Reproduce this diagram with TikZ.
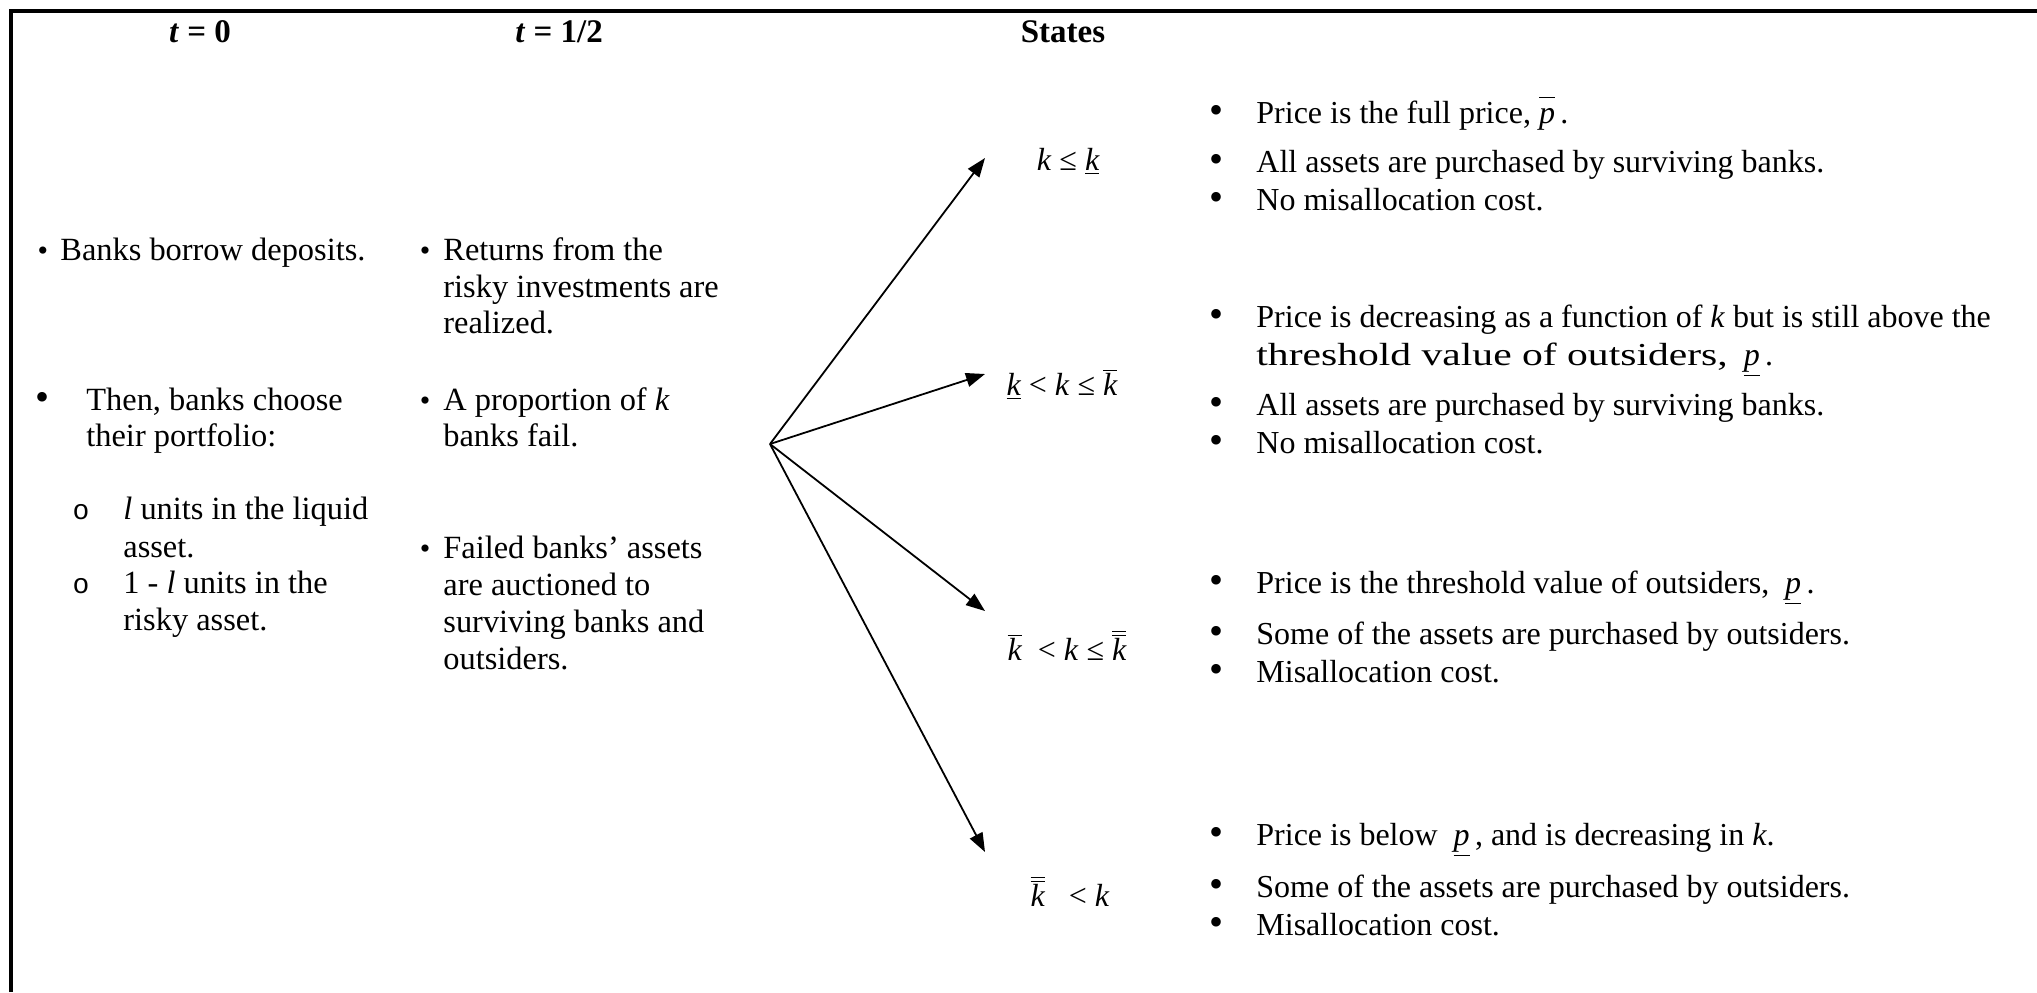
\documentclass[tikz,border=0pt]{standalone}
\usepackage{fontspec}
\setmainfont{Liberation Serif}
\newfontfamily\bulletmono{Liberation Mono}
\newfontfamily\wideserif[FakeStretch=1.3]{Liberation Serif}
\usetikzlibrary{arrows.meta}
\newcommand{\ovk}{\ensuremath{\overline{\hbox{\itshape k}}}}
\newcommand{\oovk}{\ensuremath{\overline{\overline{\hbox{\itshape k}}}}}
\newcommand{\unk}{\underline{\itshape k}}
\newcommand{\unp}{\underline{\itshape p}}
\begin{document}
\begin{tikzpicture}[x=0.5pt,y=-0.5pt,
  lt/.style={anchor=mid west, inner sep=0pt, font=\fontsize{16.2}{18}\selectfont},
  rt/.style={anchor=mid west, inner sep=0pt, font=\fontsize{16}{18}\selectfont},
  bl/.style={anchor=mid, inner sep=0pt, font=\fontsize{16}{18}\selectfont},
  bigbl/.style={anchor=mid, inner sep=0pt, font=\fontsize{20}{18}\selectfont},
  hd/.style={anchor=mid, inner sep=0pt, font=\fontsize{16.5}{18}\selectfont\bfseries},
  st/.style={anchor=mid, inner sep=0pt, font=\fontsize{16}{18}\selectfont},
  arr/.style={-{Triangle[length=9.5pt,width=7pt]}, line width=0.9pt},
  frame/.style={line width=1.6pt}]
\useasboundingbox (0,0) rectangle (2037,992);
\draw[frame] (11,992) -- (11,11) -- (2037,11);

% headers
\node[hd] (h0) at (200,38) {\textit{t} = 0};
\node[hd] (h1) at (559,38) {\textit{t} = 1/2};
\node[hd] (h2) at (1063,38) {States};

% column t = 0
\node[bl,font=\fontsize{15}{18}\selectfont] (b01) at (43,256) {•};
\node[lt] (c01) at (60,256) {Banks borrow deposits.};
\node[bigbl] (b02) at (43,406) {•};
\node[lt] (c02a) at (86,406) {Then, banks choose};
\node[lt] (c02b) at (86,442) {their portfolio:};
\node[bl,font=\fontsize{14}{18}\bulletmono] (b03) at (81,515) {o};
\node[lt] (c03a) at (123,515) {\textit{l} units in the liquid};
\node[lt] (c03b) at (123,553) {asset.};
\node[bl,font=\fontsize{14}{18}\bulletmono] (b04) at (81,589) {o};
\node[lt] (c04a) at (123,589) {1 - \textit{l} units in the};
\node[lt] (c04b) at (123,626) {risky asset.};

% column t = 1/2
\node[bl,font=\fontsize{15}{18}\selectfont] (b11) at (425,256) {•};
\node[lt] (c11a) at (443,256) {Returns from the};
\node[lt] (c11b) at (443,293) {risky investments are};
\node[lt] (c11c) at (443,329) {realized.};
\node[bl,font=\fontsize{15}{18}\selectfont] (b12) at (425,406) {•};
\node[lt] (c12a) at (443,406) {A proportion of \textit{k}};
\node[lt] (c12b) at (443,442) {banks fail.};
\node[bl,font=\fontsize{15}{18}\selectfont] (b13) at (425,554) {•};
\node[lt] (c13a) at (443,554) {Failed banks’ assets};
\node[lt] (c13b) at (443,591) {are auctioned to};
\node[lt] (c13c) at (443,628) {surviving banks and};
\node[lt] (c13d) at (443,665) {outsiders.};

% states
\node[st] (s1) at (1068,166) {\textit{k} ≤ \unk};
\node[st] (s2) at (1062,391) {\unk{} < \textit{k} ≤ \ovk};
\node[st] (s3) at (1067,656) {\ovk\ \ < \textit{k} ≤ \oovk};
\node[st] (s4) at (1070,902) {\oovk\ \ \ < \textit{k}};

\coordinate (o) at (770,444);
\coordinate (t1) at (985,158);
\coordinate (t2) at (985,374);
\coordinate (t3) at (985,611);
\coordinate (t4) at (985,852);
\draw[arr] (o) -- (t1);
\draw[arr] (o) -- (t2);
\draw[arr] (o) -- (t3);
\draw[arr] (o) -- (t4);

% descriptions
\foreach \n/\y in {r1/119,r2/168,r3/206,r4/323,r6/411,r7/449,r8/589,r9/640,r10/678,r11/841,r12/893,r13/931}
  \node[bigbl] (b\n) at (1216,\y) {•};
\node[rt] (r1) at (1256,119) {Price is the full price, $\overline{\vphantom{A}\hbox{\itshape p}}$\,.};
\node[rt] (r2) at (1256,168) {All assets are purchased by surviving banks.};
\node[rt] (r3) at (1256,206) {No misallocation cost.};
\node[rt] (r4) at (1256,323) {Price is decreasing as a function of \textit{k} but is still above the};
\node[rt] (r5) at (1256,361) {{\wideserif threshold value of outsiders,}\ \ \unp\,.};
\node[rt] (r6) at (1256,411) {All assets are purchased by surviving banks.};
\node[rt] (r7) at (1256,449) {No misallocation cost.};
\node[rt] (r8) at (1256,589) {Price is the threshold value of outsiders,\ \ \unp\,.};
\node[rt] (r9) at (1256,640) {Some of the assets are purchased by outsiders.};
\node[rt] (r10) at (1256,678) {Misallocation cost.};
\node[rt] (r11) at (1256,841) {Price is below\ \ \unp\,, and is decreasing in \textit{k}.};
\node[rt] (r12) at (1256,893) {Some of the assets are purchased by outsiders.};
\node[rt] (r13) at (1256,931) {Misallocation cost.};
\end{tikzpicture}
\end{document}
